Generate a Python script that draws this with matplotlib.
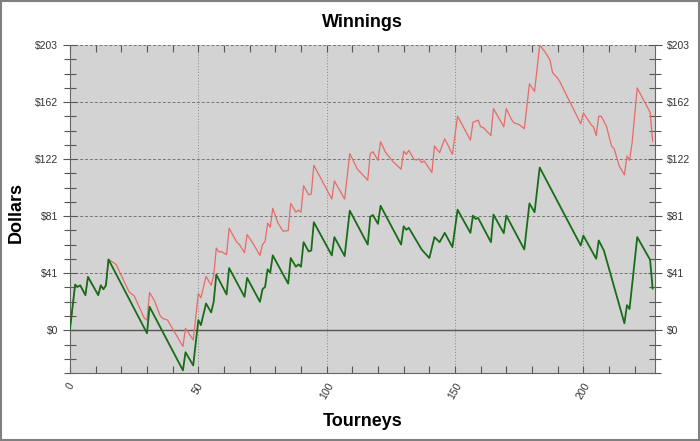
import numpy as np
import matplotlib
matplotlib.use("Agg")
import matplotlib.pyplot as plt
from matplotlib.patches import Rectangle

plt.rcParams['font.family'] = ['Liberation Sans', 'DejaVu Sans']

# profit after buy-ins (green)
green_t = [0, 2, 3, 4, 6, 7, 11, 12, 13, 14, 15, 30, 31, 44, 45, 48, 50, 51, 53, 55,
           56, 57, 61, 62, 68, 69, 74, 75, 76, 77, 78, 79, 85, 86, 88, 89, 90, 91, 93, 94,
           95, 102, 103, 107, 109, 116, 117, 118, 120, 121, 129, 130, 131, 132, 137, 140,
           142, 144, 146, 149, 151, 156, 157, 158, 159, 164, 165, 169, 170, 177, 179, 181,
           183, 199, 200, 205, 206, 208, 216, 217, 218, 221, 226, 227]
green_v = [1, 32.5, 30.9, 32, 25, 38, 25, 32, 29.2, 32, 50.4, -2.1, 16.7, -28.5, -15.6, -25,
           7.3, 3.7, 19.1, 12.7, 20.5, 39.6, 25.5, 44.3, 23.8, 37.3, 20.3, 29.2, 30.9, 43.4,
           41, 53.3, 33.2, 51.4, 45.2, 46.9, 45.2, 62.7, 56.1, 56.8, 76.9, 53.3, 66.3, 52.8,
           85.1, 61, 80.8, 82, 75.7, 88.6, 61, 74, 71.5, 72.9, 57.5, 51.4, 66.3, 62.7, 69.3,
           59.2, 85.8, 69.3, 81.6, 79.2, 80, 62.7, 82.3, 69.1, 81.6, 57.5, 90.3, 84, 115.8,
           60.3, 67.4, 50.9, 63.9, 56.8, 5, 17.9, 15.1, 66.3, 50.2, 29.7]

# winnings (red)
red_t = [0, 2, 3, 4, 6, 7, 11, 12, 13, 14, 15, 17, 18, 23, 25, 29, 30, 31, 32, 33, 35, 36,
         38, 44, 45, 48, 50, 51, 53, 55, 56, 57, 58, 59, 61, 62, 65, 66, 68, 69, 71, 74, 75,
         76, 77, 78, 79, 81, 83, 85, 86, 88, 89, 90, 91, 93, 94, 95, 102, 103, 107, 109,
         112, 116, 117, 118, 120, 121, 123, 126, 129, 130, 131, 132, 134, 135, 136, 137,
         138, 141, 142, 144, 146, 149, 151, 156, 157, 159, 160, 161, 164, 165, 169, 170,
         172, 173, 175, 177, 179, 181, 183, 185, 187, 188, 190, 191, 199, 200, 203, 204,
         205, 206, 207, 209, 211, 212, 214, 216, 217, 218, 219, 221, 226, 227]
red_v = [1, 32.5, 30.9, 32, 25, 38, 25, 32, 29.2, 32, 50.4, 48.1, 46.7, 27.4, 24.5, 8.5,
         7.3, 26.9, 23.8, 20.7, 10.8, 8.5, 7.3, -11.5, 1.4, -6.9, 26.2, 23.1, 38.4, 32,
         39.1, 58.5, 55.7, 56, 53.8, 72.6, 62.7, 61, 55.2, 68.1, 62.7, 53.3, 61, 63.2, 76.2,
         73.3, 86.8, 76.4, 70.5, 70.9, 90.3, 84, 85.5, 84, 102.8, 96.4, 97, 117.4, 93.4,
         106.3, 93.4, 125.7, 114.6, 106.8, 125.7, 127.1, 120.9, 134.2, 126.4, 119.7, 114.6,
         127.5, 125.2, 128, 121.7, 121.2, 122, 119.3, 120.5, 112.2, 131.1, 126.4, 136.3,
         125.2, 152.3, 135.3, 148, 149.5, 144.8, 144.3, 138.6, 157.7, 144.8, 157.7, 150,
         147.6, 146.4, 143.4, 175.4, 170, 203, 198.3, 192.4, 183.4, 179.4, 176.3, 146.9,
         154.7, 146.4, 144.5, 138.6, 152.3, 152.3, 145.2, 131.1, 129.2, 116.9, 110.6, 124,
         120.9, 133.4, 172.4, 155.1, 134.6]

y_max = 203
y_ticks = np.linspace(0, y_max, 6)
y_labels = ['$0', '$41', '$81', '$122', '$162', '$203']
x_ticks = [0, 50, 100, 150, 200]

fig = plt.figure(figsize=(7, 4.41), dpi=100)
ax = fig.add_axes([0.1, 0.154, 0.836, 0.744])
ax.set_facecolor('#d3d3d3')

ax.plot(red_t, red_v, color='#e86a68', lw=0.9, zorder=3)
ax.plot(green_t, green_v, color='#176d17', lw=1.3, zorder=4)
ax.axhline(0, color='#555555', lw=1, zorder=2)

ax.set_xlim(0, 228)
ax.set_ylim(-y_max / 20 * 3, y_max)

ax.set_xticks(x_ticks)
ax.set_xticks(np.arange(10, 228, 10), minor=True)
ax.set_yticks(y_ticks)
ax.set_yticklabels(y_labels)
ax.set_yticks(np.arange(-3, 20) * y_max / 20, minor=True)

ax.grid(axis='y', which='major', color='#777777', ls=(0, (3, 2)), lw=0.7)
ax.grid(axis='x', which='major', color='#888888', ls=(0, (1, 2)), lw=0.7)

ax.spines['top'].set_visible(False)
for s in ['left', 'right', 'bottom']:
    ax.spines[s].set_color('#666666')

ax.tick_params(axis='y', which='both', direction='inout', left=True, right=True,
               labelleft=True, labelright=True, color='#555555', labelsize=7.5,
               labelcolor='#333333', length=10, width=0.8)
ax.tick_params(axis='y', which='minor', length=8)
ax.tick_params(axis='x', which='both', direction='in', top=True, bottom=True,
               color='#555555', labelsize=7.5, labelcolor='#333333', length=5, width=0.8)
for lab in ax.get_xticklabels():
    lab.set_rotation(60)
    lab.set_ha('center')
    lab.set_va('top')
ax.tick_params(axis='x', pad=6)

ax.set_title('Winnings', fontsize=13, fontweight='bold', pad=13)
ax.set_xlabel('Tourneys', fontsize=13, fontweight='bold', labelpad=8)
ax.set_ylabel('Dollars', fontsize=13, fontweight='bold')
ax.yaxis.set_label_coords(-0.077, 0.49)

fig.patches.append(Rectangle((0.001, 0.002), 0.997, 0.996, transform=fig.transFigure,
                             fill=False, edgecolor='#808080', lw=1.5))

fig.savefig('out.png', dpi=100)
